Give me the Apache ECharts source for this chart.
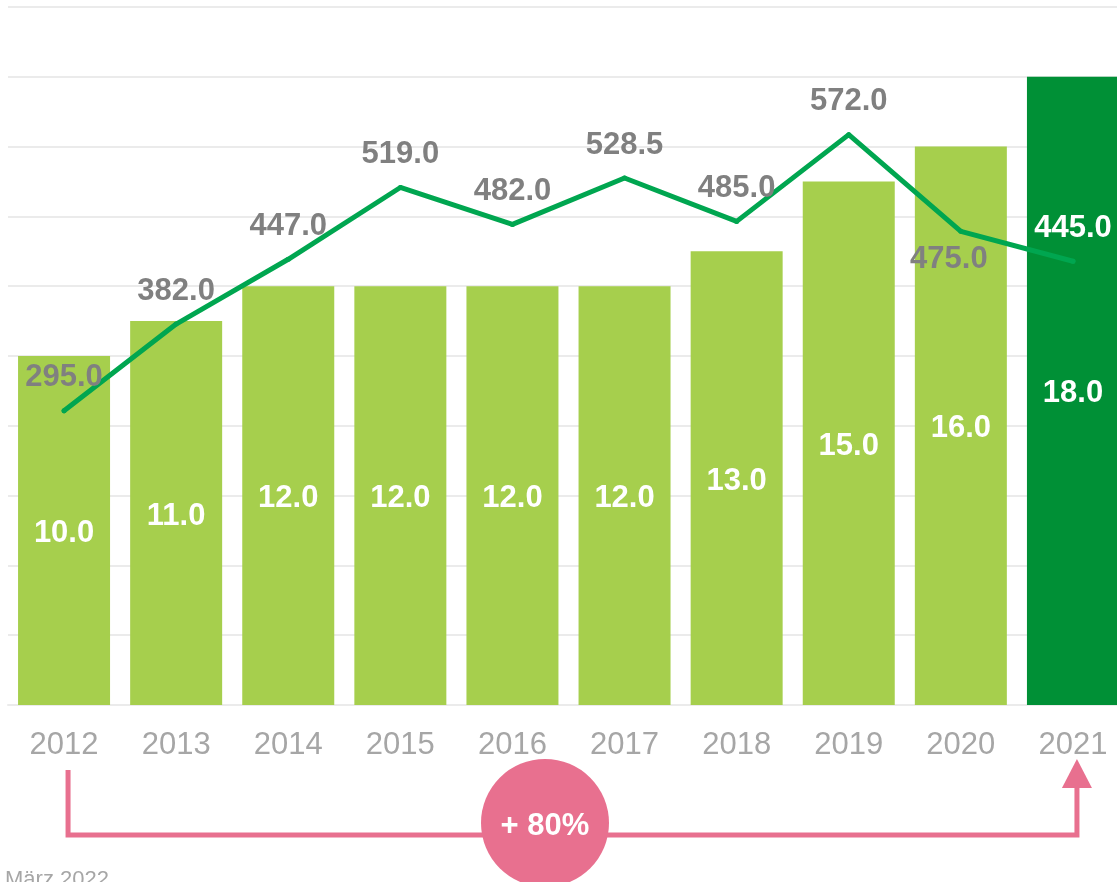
<!DOCTYPE html>
<html>
<head>
<meta charset="utf-8">
<script src="https://cdn.jsdelivr.net/npm/echarts@6/dist/echarts.min.js"></script>
<style>
  html, body { margin: 0; padding: 0; background: #fff; }
  #chart { width: 1117px; height: 882px; }
</style>
</head>
<body>
<div id="chart"></div>
<script>
var years = ['2012', '2013', '2014', '2015', '2016', '2017', '2018', '2019', '2020', '2021']
var barValues = [10, 11, 12, 12, 12, 12, 13, 15, 16, 18]
var lineValues = [295, 382, 447, 519, 482, 528.5, 485, 572, 475, 445]

var fontFamily = '"Liberation Sans", Arial, sans-serif'
var lightGreen = '#a6cf4d'
var darkGreen = '#009036'
var lineGreen = '#00a650'
var pink = '#e8708f'
var gridGray = '#ebebeb'

var chart = echarts.init(document.getElementById('chart'))

var barData = barValues.map(function (v, i) {
  return i === barValues.length - 1 ? { value: v, itemStyle: { color: darkGreen } } : v
})

var lineData = lineValues.map(function (v, i) {
  var item = { value: v }
  if (i === 8) {
    item.label = { position: 'bottom', distance: 10, offset: [-12, 0] }
  }
  if (i === 9) {
    item.label = { color: '#fff' }
  }
  return item
})

var option = {
  animation: false,
  grid: { left: 8, top: 7, width: 1121, height: 698, outerBoundsMode: 'none', containLabel: false },
  xAxis: {
    type: 'category',
    data: years,
    axisLine: { show: true, lineStyle: { color: gridGray, width: 2 } },
    axisTick: { show: false },
    axisLabel: { color: '#a6a6a6', fontSize: 31, fontFamily: fontFamily, margin: 25 }
  },
  yAxis: [
    {
      type: 'value',
      min: 0,
      max: 20,
      interval: 2,
      axisLabel: { show: false },
      axisLine: { show: false },
      axisTick: { show: false },
      splitLine: { lineStyle: { color: gridGray, width: 2 } }
    },
    {
      type: 'value',
      min: 0,
      max: 700,
      show: false,
      splitLine: { show: false }
    }
  ],
  series: [
    {
      type: 'bar',
      yAxisIndex: 0,
      barWidth: 92,
      itemStyle: { color: lightGreen },
      label: {
        show: true,
        position: 'inside',
        offset: [0, 3],
        color: '#fff',
        fontSize: 31,
        fontWeight: 'bold',
        fontFamily: fontFamily,
        formatter: function (p) { return p.value.toFixed(1) }
      },
      data: barData
    },
    {
      type: 'line',
      yAxisIndex: 1,
      symbol: 'circle',
      symbolSize: 5,
      itemStyle: { color: lineGreen },
      lineStyle: { color: lineGreen, width: 5, cap: 'round', join: 'round' },
      label: {
        show: true,
        position: 'top',
        distance: 15,
        color: '#808080',
        fontSize: 31,
        fontWeight: 'bold',
        fontFamily: fontFamily,
        formatter: function (p) { return p.value.toFixed(1) }
      },
      z: 3,
      data: lineData
    }
  ]
}

chart.setOption(option)

// bracket + arrow annotation under the axis
var x0 = chart.convertToPixel({ xAxisIndex: 0 }, years[0]) + 4
var x1 = chart.convertToPixel({ xAxisIndex: 0 }, years[years.length - 1]) + 4
chart.setOption({
  graphic: [
    {
      type: 'polyline',
      shape: { points: [[x0, 770], [x0, 835], [x1, 835], [x1, 786]] },
      style: { stroke: pink, lineWidth: 5, fill: null }
    },
    {
      type: 'polygon',
      shape: { points: [[x1 - 15, 788], [x1 + 15, 788], [x1, 759]] },
      style: { fill: pink }
    },
    {
      type: 'circle',
      shape: { cx: 545, cy: 823, r: 64 },
      style: { fill: pink }
    },
    {
      type: 'text',
      x: 545,
      y: 826,
      style: {
        text: '+ 80%',
        fill: '#fff',
        font: 'bold 31px ' + fontFamily,
        align: 'center',
        verticalAlign: 'middle'
      }
    },
    {
      type: 'text',
      x: 5,
      y: 869,
      style: {
        text: 'März 2022',
        fill: '#a6a6a6',
        font: '22px ' + fontFamily
      }
    }
  ]
})
</script>
</body>
</html>
